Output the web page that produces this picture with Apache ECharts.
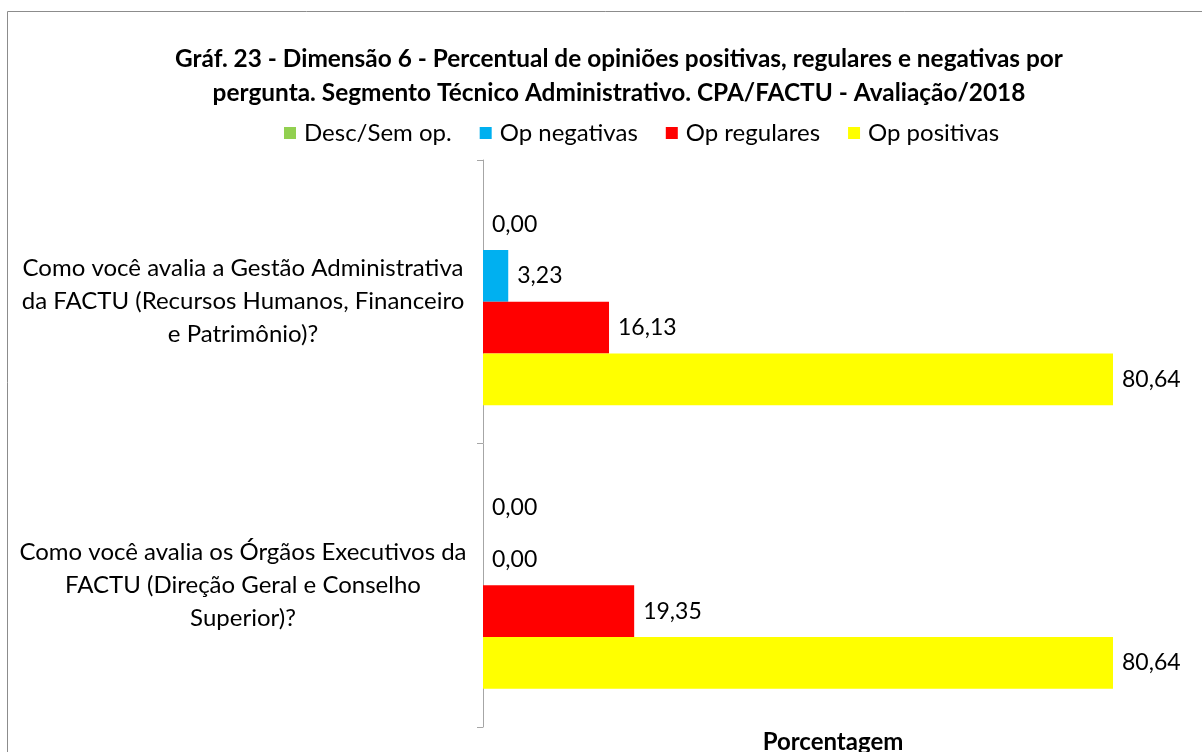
<!DOCTYPE html>
<html>

<head>
	<meta charset="utf-8">
	<title></title>
	<style type="text/css">
	body {
		margin: 0;
		background: #fff;
	}

	#chart {
		width: 1202px;
		height: 752px;
	}
	</style>
</head>

<body>
	<div id="chart"></div>
	<script src="https://cdn.jsdelivr.net/npm/echarts@6/dist/echarts.min.js"></script>
	<script>
	var categories = [
		'Como você avalia a Gestão Administrativa\nda FACTU (Recursos Humanos, Financeiro\ne Patrimônio)?',
		'Como você avalia os Órgãos Executivos da\nFACTU (Direção Geral e Conselho\nSuperior)?'
	];
	var seriesNames = ['Desc/Sem op.', 'Op negativas', 'Op regulares', 'Op positivas'];
	var descSemOp = [0, 0];
	var opNegativas = [3.23, 0];
	var opRegulares = [16.13, 19.35];
	var opPositivas = [80.64, 80.64];

	var colors = ['#92D050', '#00B0F0', '#FF0000', '#FFFF00'];
	var font = 'Lato, sans-serif';

	function bar(name, data, color) {
		return {
			name: name,
			type: 'bar',
			data: data,
			barGap: 0,
			barCategoryGap: '27%',
			itemStyle: { color: color },
			label: {
				show: true,
				position: 'right',
				distance: 9,
				color: '#000',
				fontSize: 23,
				fontFamily: font,
				formatter: function(p) {
					return p.value.toFixed(2).replace('.', ',');
				}
			}
		};
	}

	var myChart = echarts.init(document.getElementById('chart'));
	myChart.setOption({
		animation: false,
		color: colors,
		graphic: [{
			type: 'rect',
			shape: { x: 7.5, y: 11.5, width: 1300, height: 900 },
			style: { fill: 'none', stroke: '#8c8c8c', lineWidth: 1 },
			silent: true
		}],
		title: {
			text: 'Gráf. 23 - Dimensão 6 - Percentual de opiniões positivas, regulares e negativas por\npergunta. Segmento Técnico Administrativo. CPA/FACTU - Avaliação/2018',
			left: 614,
			textAlign: 'center',
			top: 37,
			textStyle: {
				fontFamily: font,
				fontSize: 24.4,
				fontWeight: 'bold',
				color: '#000',
				lineHeight: 34,
				align: 'center'
			}
		},
		legend: {
			data: seriesNames,
			top: 116,
			left: 279,
			icon: 'rect',
			itemWidth: 12,
			itemHeight: 12,
			itemGap: 28,
			textStyle: {
				fontFamily: font,
				fontSize: 24,
				color: '#000',
				padding: [0, 0, 0, 3]
			}
		},
		grid: {
			left: 483,
			right: 19,
			top: 160,
			bottom: 25,
			containLabel: false,
			outerBoundsMode: 'none'
		},
		xAxis: {
			type: 'value',
			min: 0,
			max: 89.6,
			name: 'Porcentagem',
			nameLocation: 'middle',
			nameGap: 3,
			nameTextStyle: {
				fontFamily: font,
				fontSize: 24,
				fontWeight: 'bold',
				color: '#000'
			},
			axisLine: { show: false },
			axisTick: { show: false },
			axisLabel: { show: false },
			splitLine: { show: false }
		},
		yAxis: {
			type: 'category',
			inverse: true,
			data: categories,
			axisLine: { show: true, lineStyle: { color: '#a6a6a6' } },
			axisTick: { show: true, length: 6, lineStyle: { color: '#a6a6a6' } },
			axisLabel: {
				align: 'center',
				margin: 240,
				fontFamily: font,
				fontSize: 24,
				lineHeight: 33,
				color: '#000'
			}
		},
		series: [
			bar(seriesNames[0], descSemOp, colors[0]),
			bar(seriesNames[1], opNegativas, colors[1]),
			bar(seriesNames[2], opRegulares, colors[2]),
			bar(seriesNames[3], opPositivas, colors[3])
		]
	});
	</script>
</body>

</html>
